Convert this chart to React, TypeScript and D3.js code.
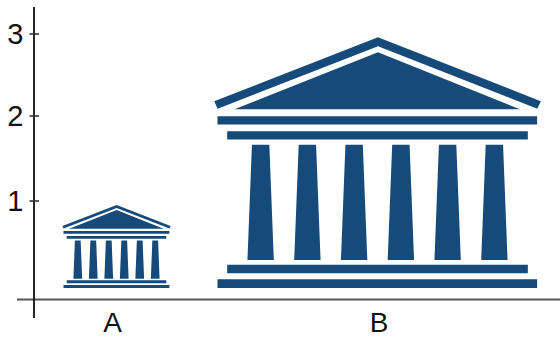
import * as d3 from 'd3';

const categories = ['A', 'B'];
const values = [0.96, 2.96];
const yTicks = [1, 2, 3];

const width = 560;
const height = 338;
const blue = '#164a7b';

// y axis is not quite linear in the picture: the baseline sits lower than the tick spacing suggests
const y = d3.scaleLinear().domain([0, 1, 2, 3]).range([299.5, 201, 116, 34]);
const xMark = d3.scalePoint().domain(categories).range([116.5, 377.5]);
const xLabel = d3.scalePoint().domain(categories).range([112.5, 379]);

// the temple icon, in its own 327 x 251 design units
const iconW = 327;
const iconH = 251;
const columnCenters = d3.range(6).map((i) => 46.5 + 46.8 * i);
const rect = (x0: number, x1: number, y0: number, y1: number) => [[x0, y0], [x1, y0], [x1, y1], [x0, y1]];
const iconParts = [
  [[0, 64], [164, 0], [327, 64], [323.5, 71.5], [164, 9], [3.5, 71.5]], // roof band
  [[20.3, 72], [164, 15], [306, 72]], // pediment
  rect(3.3, 323.3, 79, 87.3),
  rect(13, 314, 94, 102.3),
  ...columnCenters.map((c) => [[c - 8.7, 107.7], [c + 8.7, 107.7], [c + 13.2, 223], [c - 13.2, 223]]),
  rect(13, 314, 227.7, 236.3),
  rect(3.3, 323.3, 242.3, 251),
];

function Temple({ cat, value }: { cat: string; value: number }) {
  const top = y(value);
  const bottom = y(0) - 11.5;
  const h = bottom - top;
  const w = (h * iconW) / iconH;
  const cx = xMark(cat) as number;
  const sx = d3.scaleLinear().domain([0, iconW]).range([cx - w / 2, cx + w / 2]);
  const sy = d3.scaleLinear().domain([0, iconH]).range([top, bottom]);
  const line = d3.line<number[]>().x((d) => sx(d[0])).y((d) => sy(d[1]));
  return <path d={iconParts.map((p) => line(p) + 'Z').join('')} fill={blue} />;
}

export default function App() {
  return (
    <svg
      width={width}
      height={height}
      style={{ position: 'absolute', left: 0, top: 0, fontFamily: '"Liberation Sans", Arial, sans-serif' }}
    >
      <rect width={width} height={height} fill="white" />
      {categories.map((c, i) => (
        <Temple key={c} cat={c} value={values[i]} />
      ))}
      <line x1={17} x2={560} y1={y(0)} y2={y(0)} stroke="#555" strokeWidth={1.8} />
      <line x1={34} x2={34} y1={7} y2={318} stroke="#111" strokeWidth={1.8} />
      {yTicks.map((t) => (
        <g key={t}>
          <line x1={29.5} x2={39} y1={y(t)} y2={y(t)} stroke="#333" strokeWidth={1.6} />
          <text x={23.5} y={y(t)} dy="0.36em" textAnchor="end" fontSize={29} fill="#111">
            {t}
          </text>
        </g>
      ))}
      {categories.map((c) => (
        <text key={c} x={xLabel(c)} y={332} textAnchor="middle" fontSize={28} fill="#111">
          {c}
        </text>
      ))}
    </svg>
  );
}
